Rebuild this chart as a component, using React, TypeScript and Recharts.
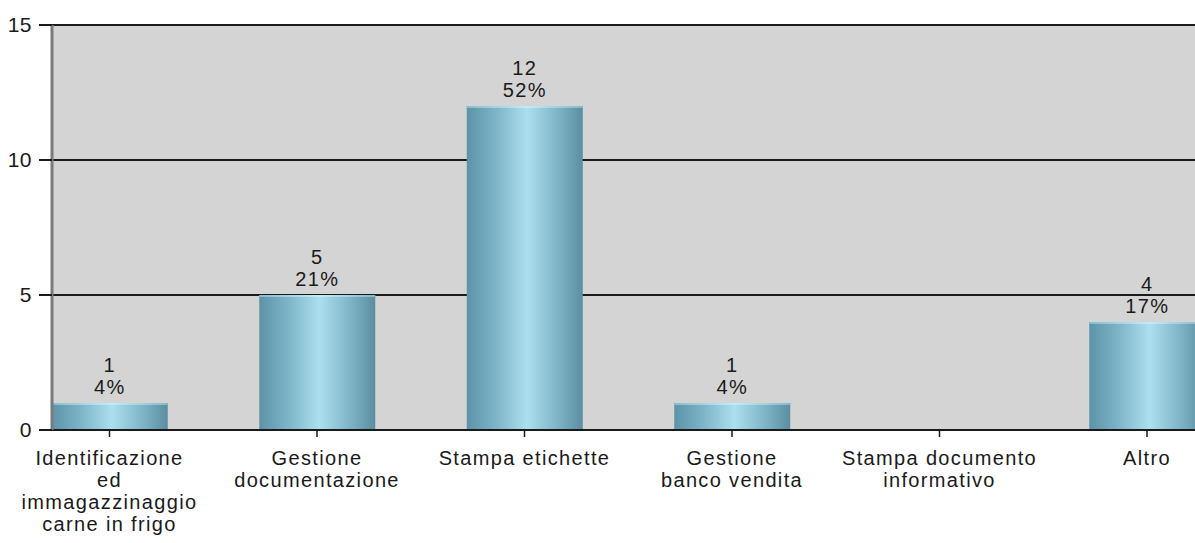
import React from 'react';
import { BarChart, Bar, XAxis, YAxis, CartesianGrid, LabelList } from 'recharts';

const tickLabels: string[][] = [
  ['Identificazione', 'ed', 'immagazzinaggio', 'carne in frigo'],
  ['Gestione', 'documentazione'],
  ['Stampa etichette'],
  ['Gestione', 'banco vendita'],
  ['Stampa documento', 'informativo'],
  ['Altro'],
];
const counts: number[] = [1, 5, 12, 1, 0, 4];
const percents: string[] = ['4%', '21%', '52%', '4%', '0%', '17%'];
const yTicks: number[] = [0, 5, 10, 15];

const data = counts.map((c, i) => ({ idx: i, count: c }));

const FONT = '"Liberation Sans", Arial, sans-serif';
const FS = 20;
const LS = 1.35;
const TXT = '#1a1a1a';

const XTick = (props: any) => {
  const { x, y, payload } = props;
  const lines = tickLabels[payload.value] || [];
  return (
    <g>
      {lines.map((l, i) => (
        <text key={i} x={x} y={y + 25.5 + i * 22.3} textAnchor="middle" fill={TXT} fontSize={FS} fontFamily={FONT} letterSpacing={LS}>
          {l}
        </text>
      ))}
    </g>
  );
};

const BarShape = (props: any) => {
  const { x, y, width, height } = props;
  if (!height || height <= 0) return null;
  return (
    <g>
      <rect x={x} y={y} width={width} height={height} fill="url(#barGrad)" />
      <rect x={x} y={y} width={width} height={2} fill="url(#barTopGrad)" />
    </g>
  );
};

const ValueLabel = (props: any) => {
  const { x, y, width, value, index } = props;
  if (!value) return null;
  const cx = x + width / 2;
  return (
    <g>
      <text x={cx} y={y - 31} textAnchor="middle" fill={TXT} fontSize={FS} fontFamily={FONT} letterSpacing={LS}>
        {value}
      </text>
      <text x={cx} y={y - 9} textAnchor="middle" fill={TXT} fontSize={FS} fontFamily={FONT} letterSpacing={LS}>
        {percents[index]}
      </text>
    </g>
  );
};

export default function App() {
  return (
    <div style={{ position: 'absolute', left: 0, top: 0, width: 1195, height: 543, overflow: 'hidden', background: '#fff' }}>
      <BarChart width={1300} height={543} data={data} margin={{ top: 25, right: 0, left: 0, bottom: 0 }}>
        <defs>
          <linearGradient id="barGrad" x1="0" y1="0" x2="1" y2="0">
            <stop offset="0%" stopColor="#5d93a6" />
            <stop offset="25%" stopColor="#7db4c7" />
            <stop offset="52%" stopColor="#acdff0" />
            <stop offset="78%" stopColor="#7eb5c7" />
            <stop offset="100%" stopColor="#5a8ea0" />
          </linearGradient>
          <linearGradient id="barTopGrad" x1="0" y1="0" x2="1" y2="0">
            <stop offset="0%" stopColor="#86bccd" />
            <stop offset="52%" stopColor="#c4ecf8" />
            <stop offset="100%" stopColor="#84b8c9" />
          </linearGradient>
        </defs>
        <CartesianGrid vertical={false} stroke="#1a1a1a" strokeWidth={2} fill="#d4d4d4" fillOpacity={1} />
        <XAxis
          type="number"
          dataKey="idx"
          domain={[-0.27711, 5.73735]}
          allowDataOverflow
          ticks={[0, 1, 2, 3, 4, 5]}
          interval={0}
          height={113}
          tickSize={7}
          axisLine={{ stroke: '#1a1a1a', strokeWidth: 2 }}
          tickLine={{ stroke: '#1a1a1a', strokeWidth: 1.5 }}
          tick={<XTick />}
        />
        <YAxis
          type="number"
          domain={[0, 15]}
          ticks={yTicks}
          interval={0}
          width={52}
          tickSize={13}
          tickMargin={7}
          axisLine={{ stroke: '#7a7a7a', strokeWidth: 3 }}
          tickLine={{ stroke: '#1a1a1a', strokeWidth: 2 }}
          tick={{ fill: TXT, fontSize: 21, fontFamily: FONT, letterSpacing: 0.5 }}
        />
        <Bar dataKey="count" barSize={116} isAnimationActive={false} shape={<BarShape />}>
          <LabelList dataKey="count" content={<ValueLabel />} />
        </Bar>
      </BarChart>
    </div>
  );
}
